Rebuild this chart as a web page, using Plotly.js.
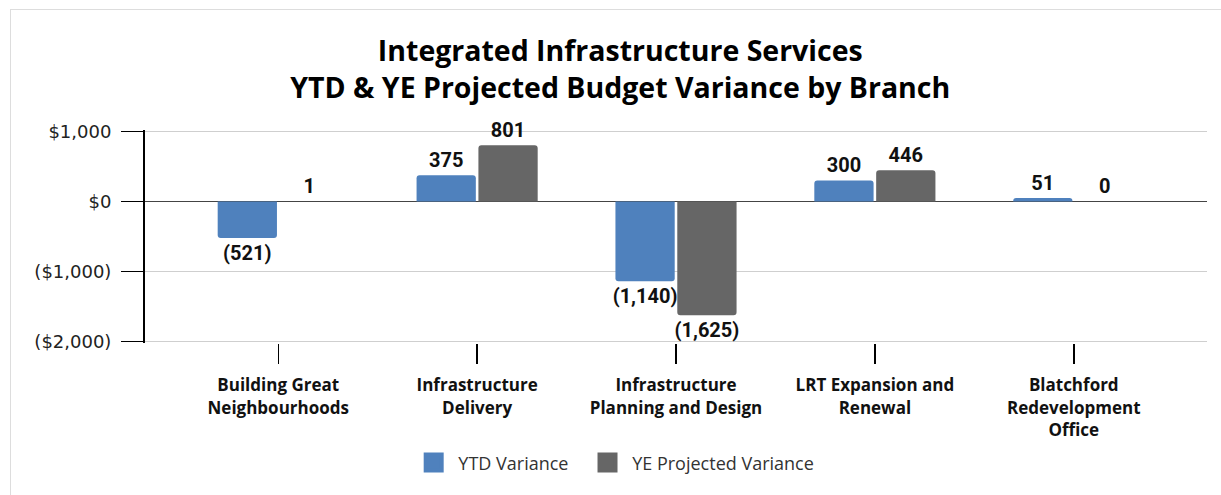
<!DOCTYPE html>
<html>
<head>
<meta charset="utf-8">
<script src="https://cdn.plot.ly/plotly-3.0.1.min.js"></script>
<style>
  html, body { margin: 0; padding: 0; background: #ffffff; }
  #wrap { position: relative; width: 1221px; height: 495px; overflow: hidden; }
  #frame {
    position: absolute; left: 10px; top: 9px; width: 1300px; height: 600px;
    border: 1px solid #dddddd; pointer-events: none;
  }
  #chart { position: absolute; left: 0; top: 0; width: 1221px; height: 495px; }
</style>
</head>
<body>
<div id="wrap">
  <div id="frame"></div>
  <div id="chart"></div>
</div>
<script>
const branches = [
  "Building Great<br>Neighbourhoods",
  "Infrastructure<br>Delivery",
  "Infrastructure<br>Planning and Design",
  "LRT Expansion and<br>Renewal",
  "Blatchford<br>Redevelopment<br>Office"
];
const ytdVariance = [-521, 375, -1140, 300, 51];
const yeProjectedVariance = [1, 801, -1625, 446, 0];

const yTickVals = [1000, 0, -1000, -2000];
const yTickText = ["$1,000", "$0", "($1,000)", "($2,000)"];

const blue = "#4f81bd";
const gray = "#666666";

const fmt = (v) => {
  const s = Math.abs(v).toLocaleString("en-US");
  return v < 0 ? "(" + s + ")" : s;
};

const xIdx = branches.map((_, i) => i);

const labelFont = { family: "Roboto, Arial, sans-serif", size: 20, color: "#111111", weight: 700 };

const barWidth = 0.298;

// overlay mode with explicit offsets so the YTD labels sit on top of the YE bars
const barTrace = (name, values, color, offset) => ({
  type: "bar",
  name: name,
  x: xIdx,
  y: values,
  width: barWidth,
  offset: offset,
  text: values.map(fmt),
  textposition: "outside",
  constraintext: "none",
  cliponaxis: false,
  textfont: labelFont,
  showlegend: false,
  marker: { color: color, cornerradius: 3, line: { width: 0 } },
  hoverinfo: "skip"
});

// legend-only traces so the swatches come out bigger than bar swatches
// (nbsp padding just widens the gaps between swatch and text)
const legendTrace = (name, color) => ({
  type: "scatter",
  mode: "markers",
  name: name,
  x: [null],
  y: [null],
  marker: { symbol: "square", size: 16, color: color, line: { color: color, width: 4 } },
  hoverinfo: "skip"
});

const data = [
  barTrace("YE Projected Variance", yeProjectedVariance, gray, 0.0065),
  barTrace("YTD Variance", ytdVariance, blue, -0.3045),
  legendTrace("\u00a0YTD Variance\u00a0\u00a0\u00a0", blue),
  legendTrace("\u00a0YE Projected Variance", gray)
];

const layout = {
  width: 1221,
  height: 495,
  margin: { l: 145, r: 14, t: 130, b: 152 },
  paper_bgcolor: "rgba(0,0,0,0)",
  plot_bgcolor: "rgba(0,0,0,0)",
  font: { family: "'Open Sans', sans-serif", size: 16, color: "#111111" },
  title: {
    text: "Integrated Infrastructure Services<br>YTD & YE Projected Budget Variance by Branch",
    font: { family: "'Open Sans', sans-serif", size: 28.5, color: "#000000", weight: 700 },
    xref: "container",
    yref: "container",
    x: 0.508,
    xanchor: "center",
    y: 0.877,
    yanchor: "middle"
  },
  barmode: "overlay",
  xaxis: {
    range: [-0.67, 4.67],
    tickmode: "array",
    tickvals: xIdx,
    ticktext: branches.map((b) => "<b>" + b + "</b>"),
    ticks: "outside",
    ticklen: 20,
    tickwidth: 1.5,
    tickcolor: "#000000",
    ticklabelstandoff: 7,
    showgrid: false,
    showline: false,
    zeroline: false,
    tickfont: { family: "'Open Sans', sans-serif", size: 17, color: "#111111" },
    fixedrange: true
  },
  yaxis: {
    range: [-2020, 1020],
    tickmode: "array",
    tickvals: yTickVals,
    ticktext: yTickText,
    ticks: "outside",
    ticklen: 22,
    tickwidth: 1.5,
    tickcolor: "#000000",
    ticklabelstandoff: 6,
    showline: true,
    linecolor: "#000000",
    linewidth: 2,
    showgrid: true,
    gridcolor: "#cfcfcf",
    gridwidth: 1.5,
    zeroline: true,
    zerolinecolor: "#444444",
    zerolinewidth: 1.5,
    tickfont: { family: "'DejaVu Sans', sans-serif", size: 18, color: "#222222" },
    fixedrange: true
  },
  showlegend: true,
  legend: {
    orientation: "h",
    x: 0.253,
    xanchor: "left",
    y: -0.563,
    yanchor: "middle",
    font: { family: "'Open Sans', sans-serif", size: 18, color: "#333333" },
    itemsizing: "trace",
    bgcolor: "rgba(0,0,0,0)"
  }
};

Plotly.newPlot("chart", data, layout, { displayModeBar: false, staticPlot: true });
</script>
</body>
</html>
